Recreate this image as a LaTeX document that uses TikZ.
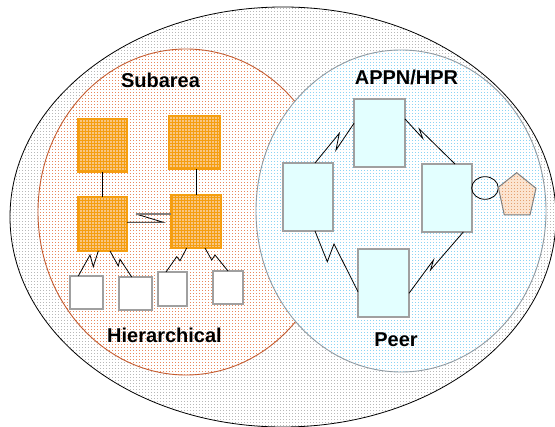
\documentclass[tikz,border=0pt]{standalone}
\usepackage{fontspec}
\setmainfont{Liberation Sans}
\usetikzlibrary{patterns,shapes.geometric,calc}

% fine square dots, 3pt apart
\pgfdeclarepatternformonly{pixdots}{\pgfpoint{-0.1pt}{-0.1pt}}{\pgfpoint{3.1pt}{3.1pt}}{\pgfpoint{3pt}{3pt}}{%
  \pgfpathrectangle{\pgfpoint{0.6pt}{0.6pt}}{\pgfpoint{1.6pt}{1.6pt}}\pgfusepath{fill}}
% denser square dots for the two sub-networks
\pgfdeclarepatternformonly{bigdots}{\pgfpoint{-0.1pt}{-0.1pt}}{\pgfpoint{3.1pt}{3.1pt}}{\pgfpoint{3pt}{3pt}}{%
  \pgfpathrectangle{\pgfpoint{0.5pt}{0.5pt}}{\pgfpoint{1.9pt}{1.9pt}}\pgfusepath{fill}}
% fine grid lines, 3pt apart
\pgfdeclarepatternformonly{boxgrid}{\pgfpoint{-0.1pt}{-0.1pt}}{\pgfpoint{3.1pt}{3.1pt}}{\pgfpoint{3pt}{3pt}}{%
  \pgfsetlinewidth{1pt}%
  \pgfpathmoveto{\pgfpoint{0pt}{1.5pt}}\pgfpathlineto{\pgfpoint{3pt}{1.5pt}}%
  \pgfpathmoveto{\pgfpoint{1.5pt}{0pt}}\pgfpathlineto{\pgfpoint{1.5pt}{3pt}}%
  \pgfusepath{stroke}}

\definecolor{outerdot}{HTML}{B8B8B8}
\definecolor{subline}{HTML}{C45A2E}
\definecolor{subdot}{HTML}{E8885C}
\definecolor{peerline}{HTML}{8F9AA2}
\definecolor{peerdot}{HTML}{8CD4F4}
\definecolor{nodeorange}{HTML}{F59E10}
\definecolor{nodefill}{HTML}{F8C684}
\definecolor{appnfill}{HTML}{E3FFFF}
\definecolor{boxgray}{HTML}{A0A0A0}
\definecolor{pentdot}{HTML}{E4A070}
\definecolor{pentfill}{HTML}{FBE4D0}

\tikzset{
  obox/.style={rectangle, inner sep=0pt, outer sep=0pt, draw=nodeorange, line width=1.3pt,
    preaction={fill=nodefill}, pattern=boxgrid, pattern color=nodeorange},
  wbox/.style={rectangle, inner sep=0pt, outer sep=0pt, draw=boxgray, line width=1.4pt, fill=white},
  pbox/.style={rectangle, inner sep=0pt, outer sep=0pt, draw=boxgray, line width=1.2pt, fill=appnfill},
  link/.style={draw=black, line width=0.8pt, line join=miter},
  label/.style={font=\fontsize{20}{24}\selectfont\bfseries, inner sep=0pt}
}

\begin{document}
\begin{tikzpicture}[x=1pt,y=-1pt]
\useasboundingbox (0,0) rectangle (555,427);
\fill[white] (0,0) rectangle (555,427);
\clip (0,0) rectangle (555,427);

% network as a whole
\path[preaction={fill=white}, pattern=pixdots, pattern color=outerdot, draw=black, line width=0.8pt]
  (283,217) ellipse [x radius=273pt, y radius=210pt];
% subarea (hierarchical) network
\path[preaction={fill=white}, pattern=bigdots, pattern color=subdot, draw=subline, line width=0.9pt]
  (186,212) ellipse [x radius=148pt, y radius=163pt];
% APPN/HPR (peer) network
\path[preaction={fill=white}, pattern=bigdots, pattern color=peerdot, draw=peerline, line width=0.9pt]
  (401,211) ellipse [x radius=145pt, y radius=161pt];

% labels
\node[label] (lsub)  at (160.5,80)  {Subarea};
\node[label] (lhier) at (164.5,335) {Hierarchical};
\node[label] (lappn) at (406.5,77)  {APPN/HPR};
\node[label] (lpeer) at (396,340)   {Peer};

% subarea nodes
\node[obox, minimum width=49pt, minimum height=53pt] (sa1) at (102.5,145.5) {};
\node[obox, minimum width=51pt, minimum height=53pt] (sa2) at (194.5,142.5) {};
\node[obox, minimum width=49pt, minimum height=54pt] (sa3) at (102.5,224) {};
\node[obox, minimum width=50pt, minimum height=53pt] (sa4) at (196,221.5) {};

% terminals
\node[wbox, minimum width=33pt, minimum height=33pt] (t1) at (86.5,292.5) {};
\node[wbox, minimum width=33pt, minimum height=33pt] (t2) at (135.5,293.5) {};
\node[wbox, minimum width=29pt, minimum height=34pt] (t3) at (172.5,289) {};
\node[wbox, minimum width=30pt, minimum height=33pt] (t4) at (228,287.5) {};

% channel attachments
\draw[link] (sa1.south) -- (sa3.north);
\draw[link] (sa4.north) -- (sa4.north |- sa2.south);

% link between the two lower subarea nodes
\draw[link] (sa3.east |- 0,222.3) -- (163.3,222.3) -- (136,214);
\draw[draw=gray, line width=1.8pt] (136,214) -- (sa4.west |- 0,214);

% terminal links
\draw[link] ([xshift=-4.2pt]sa3.south) -- (93.3,266.7) -- (90,255) -- ([xshift=-8.2pt]t1.north);
\draw[link] ([xshift=7.5pt]sa3.south) -- (118.3,266) -- (120,259.3) -- ([xshift=-3.8pt]t2.north);
\draw[link] ([xshift=-9.3pt]sa4.south) -- (180,260.7) -- (176.7,256.7) -- ([xshift=-6.5pt]t3.north);
\draw[link] ([xshift=9pt]sa4.south) -- (211.7,260) -- (215,255) -- (t4.north);

% APPN/HPR nodes
\node[pbox, minimum width=51pt, minimum height=68pt] (pT) at (379.5,133) {};
\node[pbox, minimum width=50pt, minimum height=68pt] (pL) at (308,197) {};
\node[pbox, minimum width=50pt, minimum height=68pt] (pR) at (447,198) {};
\node[pbox, minimum width=51pt, minimum height=68pt] (pB) at (383.5,283) {};

% peer links
\draw[link] ([xshift=7pt]pL.north) -- (339.3,133.3) -- (336,150) -- (pT.west |- 0,123.3);
\draw[link] (pT.east |- 0,119) -- (422.7,138.3) -- (419.3,129) -- ([xshift=8pt]pR.north);
\draw[link] ([xshift=7pt]pL.south) -- (327.3,261.7) -- (334,244) -- (pB.west |- 0,291.7);
\draw[link] ([xshift=16.3pt]pR.south) -- (430.5,270) -- (433.5,260) -- (pB.east |- 0,293.3);

% attached device
\node[ellipse, draw=black, line width=0.8pt, inner sep=0pt, minimum width=26.6pt, minimum height=22.6pt]
  (dev) at (485,188) {};
\path[preaction={fill=pentfill}, pattern=bigdots, pattern color=pentdot, draw=gray, line width=1pt]
  (516.7,172.7) -- (536,188.3) -- (530,215) -- (504.3,215) -- (498.3,187.3) -- cycle;
\end{tikzpicture}
\end{document}
